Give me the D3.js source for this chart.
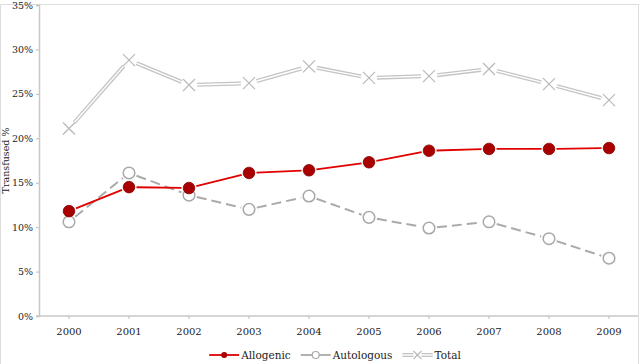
<!DOCTYPE html>
<html>
<head>
<meta charset="utf-8">
<script src="https://cdn.jsdelivr.net/npm/d3@7"></script>
<style>
  body { margin: 0; background: #fff; }
</style>
</head>
<body>
<svg id="chart" width="640" height="364"></svg>
<script>
// data
const years = ["2000", "2001", "2002", "2003", "2004", "2005", "2006", "2007", "2008", "2009"];
const allogenic = [11.8, 14.5, 14.4, 16.1, 16.4, 17.3, 18.6, 18.8, 18.8, 18.9];
const autologous = [10.6, 16.1, 13.6, 12.0, 13.5, 11.1, 9.9, 10.6, 8.7, 6.5];
const total = [21.1, 28.8, 26.0, 26.2, 28.1, 26.8, 27.0, 27.8, 26.1, 24.3];
const yTicks = [0, 5, 10, 15, 20, 25, 30, 35];
const seriesNames = ["Allogenic", "Autologous", "Total"];

const FONT = "'DejaVu Serif', serif";
const FS = "10px";
const width = 640, height = 364;
const margin = { top: 5, right: 1, bottom: 48, left: 39 };

const svg = d3.select("#chart");

// outer frame
svg.append("rect")
  .attr("x", 0.5).attr("y", 4.5)
  .attr("width", 638).attr("height", 400)
  .attr("fill", "none").attr("stroke", "#dedede");

const x = d3.scaleBand()
  .domain(years)
  .range([margin.left, width - margin.right]);

const y = d3.scaleLinear()
  .domain([0, 35])
  .range([height - margin.bottom, margin.top]);

// y axis
const yAxis = svg.append("g")
  .attr("transform", "translate(" + margin.left + ",0)")
  .call(d3.axisLeft(y).tickValues(yTicks).tickSize(3).tickPadding(3)
    .tickFormat(d => d + "%"));
yAxis.attr("font-family", FONT);
yAxis.selectAll("text").style("font-family", FONT).style("font-size", "9.5px").attr("fill", "#222");
yAxis.selectAll("line").attr("stroke", "#bbb");
yAxis.select(".domain").attr("stroke", "#c8c8c8").attr("stroke-width", 1.5);

// x axis
const xAxis = svg.append("g")
  .attr("transform", "translate(0," + y(0) + ")")
  .call(d3.axisBottom(x).tickSize(3).tickSizeOuter(0).tickPadding(9));
xAxis.attr("font-family", FONT);
xAxis.selectAll("text").style("font-family", FONT).style("font-size", FS).attr("fill", "#222");
xAxis.selectAll("line").attr("stroke", "#bbb");
xAxis.select(".domain").attr("stroke", "#c8c8c8").attr("stroke-width", 1.5)
  .attr("d", "M" + (margin.left - 3) + ",0H" + (width - 2));

// y label
svg.append("text")
  .attr("transform", "translate(9," + (y(17.5)) + ") rotate(-90)")
  .attr("text-anchor", "middle")
  .style("font-family", FONT)
  .style("font-size", "9.5px")
  .attr("fill", "#222")
  .text("Transfused %");

// segments that stop short of the markers
function segments(values, gap) {
  const segs = [];
  for (let i = 0; i < values.length - 1; i++) {
    const x1 = x(years[i]) + x.bandwidth() / 2, y1 = y(values[i]);
    const x2 = x(years[i + 1]) + x.bandwidth() / 2, y2 = y(values[i + 1]);
    const len = Math.hypot(x2 - x1, y2 - y1);
    const ux = (x2 - x1) / len, uy = (y2 - y1) / len;
    segs.push({ x1: x1 + ux * gap, y1: y1 + uy * gap, x2: x2 - ux * gap, y2: y2 - uy * gap });
  }
  return segs;
}

function drawSegs(g, segs, color, w, dash) {
  g.selectAll(null).data(segs).enter().append("line")
    .attr("x1", d => d.x1).attr("y1", d => d.y1)
    .attr("x2", d => d.x2).attr("y2", d => d.y2)
    .attr("stroke", color).attr("stroke-width", w)
    .attr("stroke-dasharray", dash || null);
}

const cx = (d, i) => x(years[i]) + x.bandwidth() / 2;

// Total: double line with crosses
const gT = svg.append("g");
const tSegs = segments(total, 8);
drawSegs(gT, tSegs, "#c4c4c4", 4);
drawSegs(gT, tSegs, "#fff", 1.4);
gT.selectAll(null).data(total).enter().append("path")
  .attr("transform", (d, i) => "translate(" + cx(d, i) + "," + y(d) + ")")
  .attr("d", "M-6,-6L6,6M-6,6L6,-6")
  .attr("stroke", "#b8b8b8").attr("stroke-width", 1.2).attr("fill", "none");

// Autologous: dashed gray with hollow circles
const gA = svg.append("g");
drawSegs(gA, segments(autologous, 8), "#aaaaaa", 2, "10,5");
gA.selectAll(null).data(autologous).enter().append("circle")
  .attr("cx", cx).attr("cy", d => y(d)).attr("r", 5.8)
  .attr("fill", "#fff").attr("stroke", "#a8a8a8").attr("stroke-width", 1.5);

// Allogenic: red with filled circles
const gL = svg.append("g");
drawSegs(gL, segments(allogenic, 7.5), "#e00000", 1.8);
gL.selectAll(null).data(allogenic).enter().append("circle")
  .attr("cx", cx).attr("cy", d => y(d)).attr("r", 5.8)
  .attr("fill", "#a80000").attr("stroke", "#8a0000").attr("stroke-width", 0.8);

// legend (line symbol 30px, text after it, items laid out left to right, centred)
const ly = 355;
const lg = svg.append("g");
const symW = 30, itemGap = 10;
const texts = lg.selectAll(null).data(seriesNames).enter().append("text")
  .attr("y", ly + 4)
  .style("font-family", FONT)
  .style("font-size", "10.5px")
  .attr("fill", "#222")
  .text(d => d);
const widths = [];
texts.each(function() { widths.push(this.getComputedTextLength()); });
const totalW = d3.sum(widths) + seriesNames.length * (symW + 2) + (seriesNames.length - 1) * itemGap;
let lx = 335 - totalW / 2;
const starts = [];
widths.forEach(w => { starts.push(lx); lx += symW + 2 + w + itemGap; });
texts.attr("x", (d, i) => starts[i] + symW + 2);

// Allogenic symbol
let s = starts[0];
lg.append("line").attr("x1", s).attr("x2", s + symW).attr("y1", ly).attr("y2", ly)
  .attr("stroke", "#e00000").attr("stroke-width", 1.8);
lg.append("circle").attr("cx", s + symW / 2).attr("cy", ly).attr("r", 3)
  .attr("fill", "#a80000");
// Autologous symbol
s = starts[1];
lg.append("line").attr("x1", s).attr("x2", s + symW).attr("y1", ly).attr("y2", ly)
  .attr("stroke", "#aaaaaa").attr("stroke-width", 1.8);
lg.append("circle").attr("cx", s + symW / 2).attr("cy", ly).attr("r", 3.5)
  .attr("fill", "#fff").attr("stroke", "#a8a8a8").attr("stroke-width", 1.2);
// Total symbol
s = starts[2];
lg.append("line").attr("x1", s).attr("x2", s + symW).attr("y1", ly).attr("y2", ly)
  .attr("stroke", "#c4c4c4").attr("stroke-width", 4);
lg.append("line").attr("x1", s).attr("x2", s + symW).attr("y1", ly).attr("y2", ly)
  .attr("stroke", "#fff").attr("stroke-width", 1.4);
lg.append("rect").attr("x", s + symW / 2 - 4).attr("y", ly - 4).attr("width", 8).attr("height", 8).attr("fill", "#fff");
lg.append("path").attr("transform", "translate(" + (s + symW / 2) + "," + ly + ")")
  .attr("d", "M-4,-4L4,4M-4,4L4,-4")
  .attr("stroke", "#b8b8b8").attr("stroke-width", 1.1);
</script>
</body>
</html>
